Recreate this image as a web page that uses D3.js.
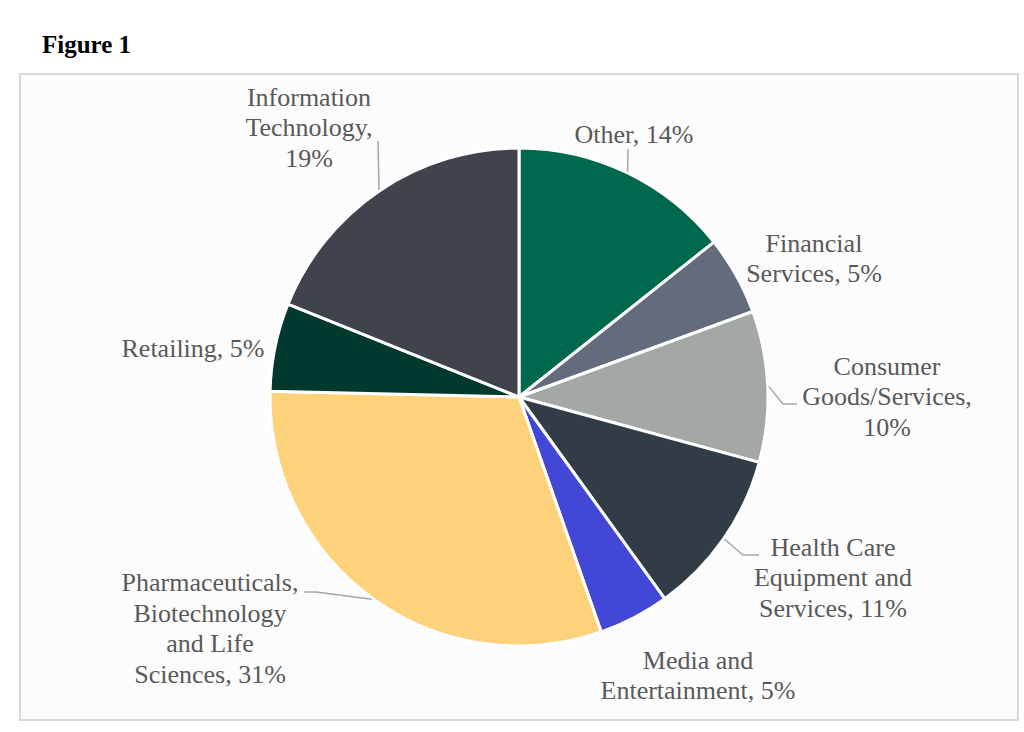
<!DOCTYPE html>
<html>
<head>
<meta charset="utf-8">
<script src="https://cdn.jsdelivr.net/npm/d3@7"></script>
<style>
  html, body { margin: 0; padding: 0; background: #ffffff; }
  svg { display: block; }
</style>
</head>
<body>
<svg id="chart" width="1024" height="732"></svg>
<script>
// ---- Data ----
const categories = [
  "Other",
  "Financial Services",
  "Consumer Goods/Services",
  "Health Care Equipment and Services",
  "Media and Entertainment",
  "Pharmaceuticals, Biotechnology and Life Sciences",
  "Retailing",
  "Information Technology"
];
const shares = [14.3, 5.1, 9.8, 10.8, 4.6, 30.7, 5.7, 18.9];
const percentLabels = ["14%", "5%", "10%", "11%", "5%", "31%", "5%", "19%"];
const labelLines = [
  ["Other, 14%"],
  ["Financial", "Services, 5%"],
  ["Consumer", "Goods/Services,", "10%"],
  ["Health Care", "Equipment and", "Services, 11%"],
  ["Media and", "Entertainment, 5%"],
  ["Pharmaceuticals,", "Biotechnology", "and Life", "Sciences, 31%"],
  ["Retailing, 5%"],
  ["Information", "Technology,", "19%"]
];
const colors = ["#00694d", "#636b7c", "#a4a8a4", "#323c46", "#4347d6", "#fed27a", "#003a2f", "#3e434d"];

// ---- Layout (label placement relative to pie centre) ----
const layout = [
  { tx: 115, ty: -263, leader: [[109, -248]] },
  { tx: 295, ty: -139, leader: null },
  { tx: 368, ty: -1, leader: [[264, 7], [278, 7]] },
  { tx: 314, ty: 180, leader: [[224, 158], [240, 158]] },
  { tx: 179, ty: 278, leader: null },
  { tx: -309, ty: 231, leader: [[-203, 195], [-215, 195]] },
  { tx: -326, ty: -49, leader: null },
  { tx: -210, ty: -270, leader: [[-141, -256]] }
];

const svg = d3.select("#chart");
const W = 1024, H = 732;

// Title
svg.append("text")
  .attr("x", 42).attr("y", 53)
  .attr("font-family", "'Liberation Serif', 'Times New Roman', serif")
  .attr("font-weight", "bold")
  .attr("font-size", 25)
  .attr("fill", "#000")
  .text("Figure 1");

// Frame
svg.append("rect")
  .attr("x", 20).attr("y", 74)
  .attr("width", 998).attr("height", 646)
  .attr("fill", "#fcfcfc")
  .attr("stroke", "#d9d9d9")
  .attr("stroke-width", 2);

const cx = 519, cy = 397, R = 249;
const g = svg.append("g").attr("transform", `translate(${cx},${cy})`);

const data = categories.map((c, i) => ({ name: c, value: shares[i], i }));
const pie = d3.pie().value(d => d.value).sort(null);
const arcs = pie(data);
const arc = d3.arc().innerRadius(0).outerRadius(R);

g.selectAll("path.slice")
  .data(arcs)
  .enter().append("path")
  .attr("class", "slice")
  .attr("d", arc)
  .attr("fill", d => colors[d.data.i])
  .attr("stroke", "#ffffff")
  .attr("stroke-width", 3)
  .attr("stroke-linejoin", "round");

// Leader lines
arcs.forEach(a => {
  const L = layout[a.data.i];
  if (!L.leader) return;
  const mid = (a.startAngle + a.endAngle) / 2;
  const start = [Math.sin(mid) * (R + 1), -Math.cos(mid) * (R + 1)];
  const pts = [start].concat(L.leader);
  g.append("path")
    .attr("d", d3.line()(pts))
    .attr("fill", "none")
    .attr("stroke", "#a6a6a6")
    .attr("stroke-width", 1.5);
});

// Labels
const lineH = 30.5;
arcs.forEach(a => {
  const i = a.data.i;
  const L = layout[i];
  const lines = labelLines[i];
  const t = g.append("text")
    .attr("text-anchor", "middle")
    .attr("font-family", "'Liberation Serif', 'Times New Roman', serif")
    .attr("font-size", 26)
    .attr("fill", "#595959");
  const y0 = L.ty - (lines.length - 1) * lineH / 2;
  lines.forEach((ln, k) => {
    t.append("tspan")
      .attr("x", L.tx)
      .attr("y", y0 + k * lineH)
      .attr("dy", "0.35em")
      .text(ln);
  });
});
</script>
</body>
</html>
